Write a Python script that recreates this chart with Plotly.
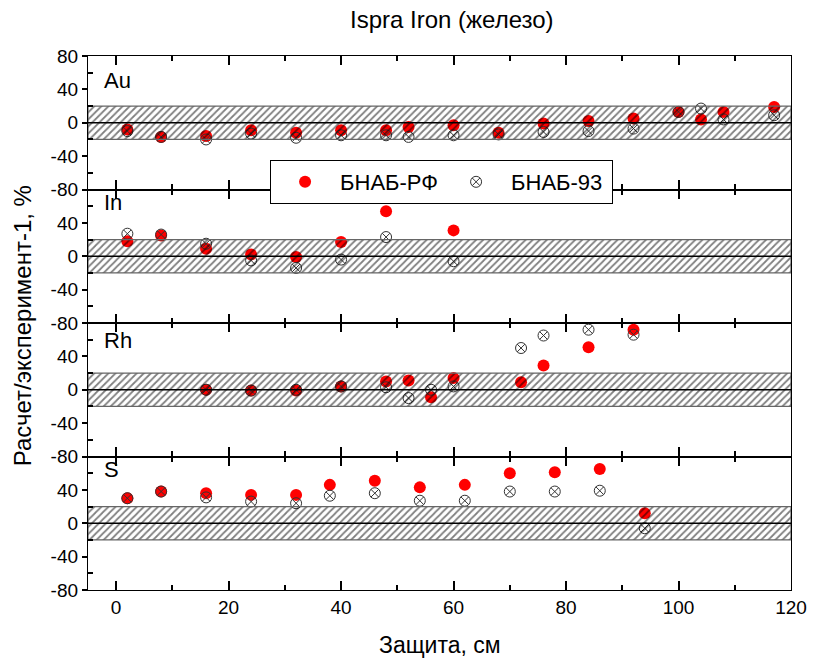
import plotly.graph_objects as go

# ---- data ----
panels = ["Au", "In", "Rh", "S"]

au_x = [2, 8, 16, 24, 32, 40, 48, 52, 60, 68, 76, 84, 92, 100, 104, 108, 117]
au_rf = [-8, -17, -16, -9, -12, -9, -9, -5, -3, -12, -1, 2, 5, 13, 4, 13, 19]
au_93 = [-10, -17, -20, -13, -18, -15, -15, -17, -15, -14, -11, -10, -7, 13, 17, 4, 9]

in_x = [2, 8, 16, 24, 32, 40, 48, 60]
in_rf = [18, 25, 9, 2, -1, 17, 54, 31]
in_93 = [27, 26, 15, -5, -14, -4, 23, -6]

rh_x = [16, 24, 32, 40, 48, 52, 56, 60, 72, 76, 84, 92]
rh_rf = [0, -1, -1, 4, 10, 11, -9, 14, 9, 29, 51, 72]
rh_93 = [0, -1, 0, 4, 3, -10, 0, 4, 50, 65, 72, 66]

s_x = [2, 8, 16, 24, 32, 38, 46, 54, 62, 70, 78, 86, 94]
s_rf = [30, 38, 36, 34, 34, 46, 51, 43, 46, 60, 61, 65, 12]
s_93 = [30, 38, 31, 26, 24, 33, 36, 27, 27, 38, 38, 39, -6]

series_x = [au_x, in_x, rh_x, s_x]
series_rf = [au_rf, in_rf, rh_rf, s_rf]
series_93 = [au_93, in_93, rh_93, s_93]

band = [-20, 20]
x_range = [-5, 120]
y_range = [-80, 80]
label_y = [0.82, 0.9, 0.87, 0.9]

FONT = "Liberation Sans, Arial, sans-serif"

fig = go.Figure()
n = len(panels)
domains = [[1 - (i + 1) / n, 1 - i / n] for i in range(n)]

for i in range(n):
    k = i + 1
    xa = "x" if k == 1 else f"x{k}"
    ya = "y" if k == 1 else f"y{k}"
    fig.add_trace(go.Scatter(
        x=series_x[i], y=series_rf[i], mode="markers", xaxis=xa, yaxis=ya,
        name="БНАБ-РФ", legendgroup="rf", showlegend=(i == 0),
        marker=dict(symbol="circle", size=12, color="#ff0000", line=dict(width=0))))
    fig.add_trace(go.Scatter(
        x=series_x[i], y=series_93[i], mode="markers", xaxis=xa, yaxis=ya,
        name="БНАБ-93", legendgroup="b93", showlegend=(i == 0),
        marker=dict(symbol="circle-x-open", size=11, color="#333333", line=dict(width=1))))
    # hatched +-20% band (drawn over markers as in the original)
    fig.add_trace(go.Scatter(
        x=[x_range[0], x_range[1], x_range[1], x_range[0], x_range[0]],
        y=[band[0], band[0], band[1], band[1], band[0]],
        mode="lines", fill="toself", fillcolor="rgba(0,0,0,0)",
        fillpattern=dict(shape="/", fgcolor="#000000", size=5, solidity=0.35),
        line=dict(color="#666666", width=1.2), xaxis=xa, yaxis=ya,
        showlegend=False, hoverinfo="skip"))
    fig.add_trace(go.Scatter(
        x=x_range, y=[0, 0], mode="lines", line=dict(color="black", width=1.5),
        xaxis=xa, yaxis=ya, showlegend=False, hoverinfo="skip"))

    xkey = "xaxis" if k == 1 else f"xaxis{k}"
    ykey = "yaxis" if k == 1 else f"yaxis{k}"
    fig.layout[xkey] = dict(
        domain=[0, 1], anchor=ya, range=x_range, showgrid=False, zeroline=False,
        showline=True, linecolor="black", linewidth=1.3, mirror="allticks",
        ticks="inside", ticklen=9, tickwidth=1.5, tickcolor="black",
        tickvals=[0, 20, 40, 60, 80, 100, 120],
        minor=dict(ticks="inside", ticklen=5, tickwidth=1.5, tickcolor="black", dtick=10, tick0=0),
        showticklabels=(k == n),
        tickfont=dict(family=FONT, size=19, color="black"),
        matches=None if k == 1 else "x")
    tv = [-80, -40, 0, 40, 80] if k == 1 else [-80, -40, 0, 40]
    fig.layout[ykey] = dict(
        domain=domains[i], anchor=xa, range=y_range, showgrid=False, zeroline=False,
        showline=True, linecolor="black", linewidth=1.3, mirror=True,
        ticks="outside", ticklen=5, tickwidth=1.5, tickcolor="black",
        tickvals=tv, ticktext=[str(v) for v in tv],
        minor=dict(ticks="inside", ticklen=5, tickwidth=1.5, tickcolor="black", tickvals=[-60, -20, 20, 60]),
        tickfont=dict(family=FONT, size=19, color="black"))
    # right side inward ticks
    rkey = f"yaxis{k + n}"
    fig.layout[rkey] = dict(
        overlaying=ya, side="right", anchor=xa, range=y_range, showgrid=False,
        zeroline=False, showline=False, ticks="inside", ticklen=5, tickwidth=1.5,
        tickcolor="black", dtick=20, tick0=0, showticklabels=False)
    fig.add_annotation(
        text=panels[i], xref=f"{xa} domain", yref=f"{ya} domain",
        x=0.02, y=label_y[i], xanchor="left", yanchor="middle", showarrow=False,
        font=dict(family=FONT, size=22, color="black"))

fig.add_annotation(text="Ispra Iron (железо)", xref="paper", yref="paper",
                   x=0.518, y=1.068, xanchor="center", yanchor="middle", showarrow=False,
                   font=dict(family=FONT, size=24, color="black"))
fig.add_annotation(text="Защита, см", xref="paper", yref="paper",
                   x=0.501, y=-0.103, xanchor="center", yanchor="middle", showarrow=False,
                   font=dict(family=FONT, size=23, color="black"))
fig.add_annotation(text="Расчет/эксперимент-1, %", xref="paper", yref="paper",
                   x=-0.093, y=0.495, xanchor="center", yanchor="middle",
                   textangle=-90, showarrow=False,
                   font=dict(family=FONT, size=24, color="black"))

fig.update_layout(
    width=819, height=661, margin=dict(l=88, r=17, t=56, b=71),
    paper_bgcolor="white", plot_bgcolor="white",
    showlegend=True,
    legend=dict(orientation="h", x=0.259, y=0.764, xanchor="left", yanchor="middle",
                bgcolor="white", bordercolor="black", borderwidth=1,
                font=dict(family=FONT, size=22, color="black"),
                itemwidth=60, entrywidth=96, itemsizing="trace"),
)

# remove the default 8px page margin so the figure fills the window exactly
fig.write_html("out.html", config={"displayModeBar": False},
               post_script="document.body.style.margin='0px';")
